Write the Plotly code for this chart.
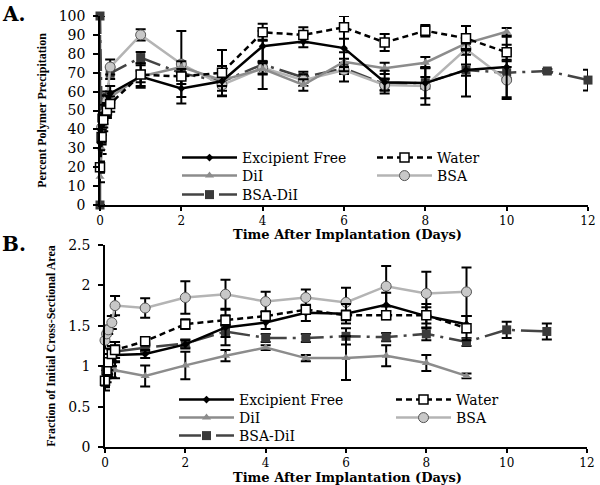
import plotly.graph_objects as go

# ---------------- Panel A: Percent Polymer Precipitation ----------------
tA = [0, 0.04, 0.08, 0.17, 0.25, 1, 2, 3, 4, 5, 6, 7, 8, 9, 10]
tA_bsa = [0.04, 0.08, 0.17, 0.25, 1, 2, 3, 4, 5, 6, 7, 8, 9, 10]
tA_bsadil = [0, 0, 0.04, 0.08, 0.17, 0.25, 1, 2, 3, 4, 5, 6, 7, 8, 9, 10, 11, 12]

A_excip = [33, 42, 48, 53, 59, 68, 61.7, 65.5, 84, 86.5, 83, 65, 64.5, 71.4, 73]
A_excip_err = [4, 5, 5, 5, 4, 6, 8, 8, 8, 3, 10, 6, 8, 14, 16]
A_water = [20, 36, 45, 50, 53.4, 69, 68, 70, 91.4, 90, 94, 86, 92.2, 88.2, 80.8]
A_water_err = [3, 4, 4, 4, 4, 6, 4, 12, 4.5, 4, 6, 4.5, 3, 6.5, 4]
A_dil = [15, 30, 42, 50, 57, 68, 73, 66, 72, 63.5, 75.8, 72.3, 75.3, 85.5, 91.7]
A_dil_err = [3, 3, 3, 3, 3, 3, 3, 3, 3, 3, 5, 3, 3, 3, 2]
A_bsa = [41, 48, 55, 73, 90, 74.6, 63.5, 72.6, 66, 71.4, 63.5, 63, 82.5, 66.1]
A_bsa_err = [2, 2, 3, 4, 3, 17.5, 3, 3, 3, 6, 3, 10, 3, 10]
A_bsadil = [0, 100, 46, 50, 57, 69.7, 78, 69.7, 65.3, 74.4, 67.5, 72.3, 63.9, 64.7, 71.4, 70, 70.9, 66.1]
A_bsadil_err = [0, 0, 3, 3, 3, 3, 3, 3, 3, 13, 3, 3, 3, 3, 3, 3, 1, 5.5]

# ---------------- Panel B: Fraction of Initial Cross-Sectional Area ----------------
tB = [0, 0.04, 0.08, 0.17, 0.25, 1, 2, 3, 4, 5, 6, 7, 8, 9]
tB_bsadil = [0, 0.04, 0.08, 0.17, 0.25, 1, 2, 3, 4, 5, 6, 7, 8, 9, 10, 11]

B_excip = [0.95, 1.0, 1.05, 1.1, 1.14, 1.15, 1.27, 1.48, 1.54, 1.66, 1.65, 1.76, 1.62, 1.52]
B_excip_err = [0.1, 0.1, 0.1, 0.1, 0.08, 0.05, 0.05, 0.22, 0.08, 0.1, 0.12, 0.15, 0.15, 0.1]
B_water = [0.82, 0.95, 1.05, 1.15, 1.2, 1.31, 1.52, 1.57, 1.62, 1.70, 1.63, 1.63, 1.63, 1.47]
B_water_err = [0.08, 0.1, 0.1, 0.1, 0.1, 0.05, 0.06, 0.06, 0.05, 0.05, 0.06, 0.05, 0.1, 0.15]
B_dil = [0.85, 1.0, 0.97, 0.96, 0.95, 0.88, 1.01, 1.13, 1.23, 1.10, 1.10, 1.13, 1.04, 0.88]
B_dil_err = [0.1, 0.1, 0.1, 0.1, 0.1, 0.13, 0.17, 0.07, 0.03, 0.04, 0.27, 0.13, 0.1, 0.03]
B_bsa = [1.32, 1.40, 1.45, 1.54, 1.75, 1.72, 1.85, 1.89, 1.80, 1.85, 1.79, 1.99, 1.90, 1.92]
B_bsa_err = [0.1, 0.1, 0.05, 0.08, 0.12, 0.12, 0.2, 0.18, 0.12, 0.1, 0.18, 0.25, 0.27, 0.3]
B_bsadil = [0.80, 0.90, 1.0, 1.1, 1.18, 1.23, 1.28, 1.43, 1.35, 1.35, 1.37, 1.36, 1.40, 1.30, 1.45, 1.43]
B_bsadil_err = [0.1, 0.1, 0.1, 0.1, 0.08, 0.05, 0.05, 0.07, 0.05, 0.05, 0.1, 0.05, 0.08, 0.05, 0.1, 0.1]

names = ["Excipient Free", "Water", "DiI", "BSA", "BSA-DiI"]
xticks = [0, 2, 4, 6, 8, 10, 12]

SERIF = "DejaVu Serif"
styles = {
    "Excipient Free": dict(line=dict(color="#000000", width=2.5),
                           marker=dict(symbol="diamond", size=6, color="#000000")),
    "Water": dict(line=dict(color="#000000", width=2.5, dash="6px,4px"),
                  marker=dict(symbol="square", size=9, color="#ffffff",
                              line=dict(color="#000000", width=1.5))),
    "DiI": dict(line=dict(color="#8c8c8c", width=2.5),
                marker=dict(symbol="triangle-up", size=8, color="#8c8c8c")),
    "BSA": dict(line=dict(color="#b4b4b4", width=2.5),
                marker=dict(symbol="circle", size=10, color="#c8c8c8",
                            line=dict(color="#555555", width=1))),
    "BSA-DiI": dict(line=dict(color="#444444", width=2.5, dash="22px,6px,3px,6px"),
                    marker=dict(symbol="square", size=9, color="#3a3a3a")),
}

W, H = 600, 485
def px_x(p):
    return p / W
def px_y(p):
    return 1 - p / H

# legend slot per (panel, series): left column / right column rows (pixels)
legend_pos = {
    ("A", "Excipient Free"): (183, 158), ("A", "Water"): (378, 158),
    ("A", "DiI"): (183, 176), ("A", "BSA"): (378, 176),
    ("A", "BSA-DiI"): (183, 195),
    ("B", "Excipient Free"): (180, 400), ("B", "Water"): (397, 400),
    ("B", "DiI"): (180, 418), ("B", "BSA"): (397, 418),
    ("B", "BSA-DiI"): (180, 436),
}

fig = go.Figure()
legend_layout = {}
leg_common = dict(bgcolor="rgba(0,0,0,0)", font=dict(family=SERIF, size=14, color="#000000"),
                  itemwidth=55, orientation="v", xanchor="left", yanchor="middle",
                  itemclick=False, itemdoubleclick=False)
counter = [0]

def add(x, y, err, name, panel):
    st = styles[name]
    counter[0] += 1
    lid = "legend" if counter[0] == 1 else "legend%d" % counter[0]
    sx, sy = legend_pos[(panel, name)]
    legend_layout[lid] = dict(x=px_x(sx - 6), y=px_y(sy), **leg_common)
    xa, ya = ("x", "y") if panel == "A" else ("x2", "y2")
    fig.add_trace(go.Scatter(
        x=x, y=y, name=name, mode="lines+markers",
        line=st["line"], marker=st["marker"],
        error_y=dict(type="data", array=err, color="#000000", thickness=2, width=5),
        xaxis=xa, yaxis=ya, legend=lid, cliponaxis=False,
    ))

add(tA_bsadil, A_bsadil, A_bsadil_err, "BSA-DiI", "A")
add(tA_bsa, A_bsa, A_bsa_err, "BSA", "A")
add(tA, A_dil, A_dil_err, "DiI", "A")
add(tA, A_excip, A_excip_err, "Excipient Free", "A")
add(tA, A_water, A_water_err, "Water", "A")

add(tB_bsadil, B_bsadil, B_bsadil_err, "BSA-DiI", "B")
add(tB, B_bsa, B_bsa_err, "BSA", "B")
add(tB, B_dil, B_dil_err, "DiI", "B")
add(tB, B_excip, B_excip_err, "Excipient Free", "B")
add(tB, B_water, B_water_err, "Water", "B")

axis_common = dict(showline=True, linecolor="#000000", linewidth=1.5, ticks="outside",
                   tickcolor="#000000", tickwidth=1.5, showgrid=False, zeroline=False,
                   automargin=False, ticklabeloverflow="allow")
yfont = dict(family=SERIF, size=14, color="#000000")
xfont = dict(family=SERIF, size=12, color="#000000")
ytitle_font = dict(family="Liberation Serif", size=12, color="#000000")

fig.update_layout(
    width=W, height=H, margin=dict(l=0, r=0, t=0, b=0),
    paper_bgcolor="#ffffff", plot_bgcolor="#ffffff",
    xaxis=dict(domain=[px_x(100), px_x(588)], range=[0, 12], tickvals=xticks, ticklen=4,
               anchor="y", tickfont=xfont, **axis_common),
    yaxis=dict(domain=[px_y(205), px_y(16)], range=[0, 100], dtick=10, anchor="x", ticklen=5,
               ticklabelstandoff=5, tickfont=yfont,
               title=dict(text="<b>Percent Polymer Precipitation</b>", font=ytitle_font, standoff=10),
               **axis_common),
    xaxis2=dict(domain=[px_x(105), px_x(587)], range=[0, 12], tickvals=xticks, ticklen=4,
                anchor="y2", tickfont=xfont, **axis_common),
    yaxis2=dict(domain=[px_y(447), px_y(245)], range=[0, 2.5], anchor="x2", ticklen=5,
                tickvals=[0, 0.5, 1, 1.5, 2, 2.5], ticktext=["0", "0.5", "1", "1.5", "2", "2.5"],
                ticklabelstandoff=5, tickfont=yfont,
                title=dict(text="<b>Fraction of Initial Cross-Sectional Area</b>", font=ytitle_font,
                           standoff=10),
                **axis_common),
    showlegend=True,
    **legend_layout,
)

xtitle_text = "<b>Time After Implantation (Days)</b>"
for ty in (234, 477):
    fig.add_annotation(text=xtitle_text, x=px_x(347), y=px_y(ty), xref="paper", yref="paper",
                       xanchor="center", yanchor="middle", showarrow=False,
                       font=dict(family=SERIF, size=13, color="#000000"))

fig.add_annotation(text="<b>A.</b>", x=0, y=1, xref="paper", yref="paper", xanchor="left",
                   yanchor="top", showarrow=False, font=dict(family=SERIF, size=20, color="#000000"))
fig.add_annotation(text="<b>B.</b>", x=0, y=px_y(230), xref="paper", yref="paper", xanchor="left",
                   yanchor="top", showarrow=False, font=dict(family=SERIF, size=20, color="#000000"))

# remove the default 8px page margin so the 600x485 figure fills the window exactly
fig.write_html("out.html", config={"displayModeBar": False},
               post_script="document.body.style.margin='0';document.body.style.overflow='hidden';")
